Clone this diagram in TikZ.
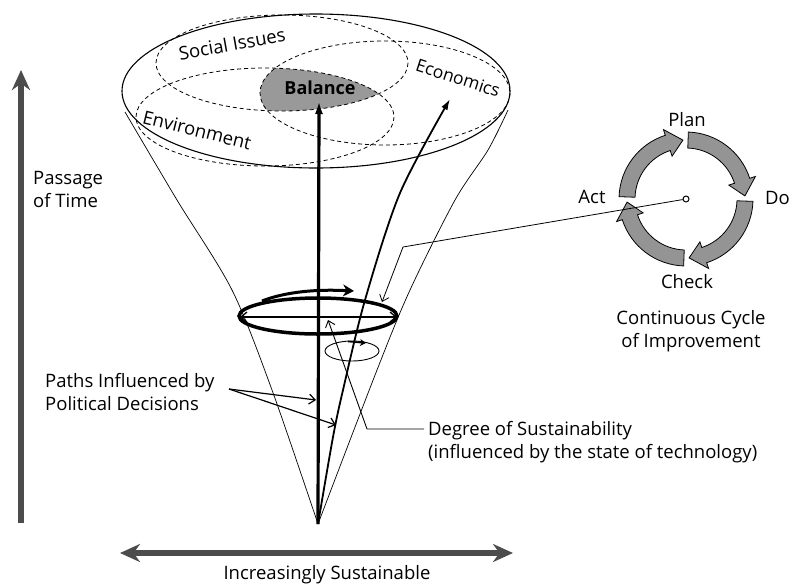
\documentclass[tikz,border=0pt]{standalone}
\usepackage{fontspec}
\setmainfont{Open Sans}
\usetikzlibrary{arrows.meta}
\newcommand\cyclearr[2]{%
  \filldraw[cyc] (#1:67) arc[start angle=#1, end angle=#2+15, radius=67]
    -- (#2+15:73) -- (#2:59) -- (#2+15:45) -- (#2+15:51)
    arc[start angle=#2+15, end angle=#1, radius=51] -- cycle;}
\begin{document}
\begin{tikzpicture}[x=1pt,y=-1pt,
  lbl/.style={font=\fontsize{18.5}{23}\selectfont, inner sep=0pt},
  conel/.style={line width=0.7pt},
  dsh/.style={dashed, dash pattern=on 4pt off 3pt, line width=0.8pt},
  bigarrow/.style={line width=6pt, draw=black!70},
  barb/.style={-{Straight Barb[length=6pt,width=10pt]}},
  cyc/.style={fill=black!42, draw=black, line width=0.8pt, line join=miter}]
\useasboundingbox (0,0) rectangle (794,587);

% cone sides
\draw[conel] plot[smooth] coordinates {(125,112) (177,200) (232,290) (272,390) (318,524)};
\draw[conel] plot[smooth] coordinates {(508,110) (488,150) (455,200) (410,290) (377,370) (318,524)};

% top ellipses
\draw[line width=1.1pt] (316,91) ellipse [x radius=194, y radius=77];
\begin{scope}
  \clip (282,63) ellipse [x radius=126, y radius=48];
  \clip (265,117) ellipse [x radius=129, y radius=49];
  \fill[black!40] (385,93) ellipse [x radius=125, y radius=52];
\end{scope}
\draw[dsh] (282,63) ellipse [x radius=126, y radius=48];
\draw[dsh] (265,117) ellipse [x radius=129, y radius=49];
\draw[dsh] (385,93) ellipse [x radius=125, y radius=52];

\node[lbl, rotate=10] (social) at (232,44) {Social Issues};
\node[lbl, rotate=-18, font=\fontsize{17.5}{23}\selectfont] (econ) at (458,78) {Economics};
\node[lbl, rotate=-14] (env) at (197,130) {Environment};
\node[lbl, font=\fontsize{18}{23}\selectfont\bfseries] (bal) at (320,88) {Balance};

% paths
\coordinate (apex) at (318,524);
\coordinate (baltip) at (319,101);
\draw[line width=3.2pt, -{Latex[length=13pt,width=8pt]}] (apex) -- (baltip);
\draw[line width=1.8pt, -{Latex[length=11pt,width=7pt]}] plot[smooth] coordinates {(318,524) (333,437) (343,390) (365,300) (400,193) (450,99)};

% rings
\draw[line width=3.5pt] (318,316) ellipse [x radius=79, y radius=18];
\draw[line width=3pt, -{Stealth[length=11pt,width=12pt]}] (262,301) .. controls (285,292) and (315,289) .. (354,291);
\draw[line width=1.3pt, {Straight Barb[length=6pt,width=10pt]}-{Straight Barb[length=6pt,width=10pt]}] (240,317) -- (397,317);
\draw[line width=0.9pt] (352,351) ellipse [x radius=27, y radius=10];
\draw[line width=1.6pt, -{Stealth[length=6pt,width=7pt]}] (348,341.5) -- (366,343);

% big axes
\draw[bigarrow, -{Stealth[length=20pt,width=18pt]}] (21,523) -- (21,70);
\draw[bigarrow, {Stealth[length=20pt,width=18pt]}-{Stealth[length=20pt,width=18pt]}] (120,553) -- (513,553);

\node[lbl, align=left, anchor=west] (time) at (33,189) {Passage\\of Time};
\node[lbl] (sust) at (327,575) {Increasingly Sustainable};
\node[lbl, align=left, anchor=west] (paths) at (45,392) {Paths Influenced by\\Political Decisions};
\node[lbl, align=left, anchor=west] (deg) at (428,442) {Degree of Sustainability\\(influenced by the state of technology)};

\coordinate (pstart) at (229,389);
\draw[line width=1.2pt, barb] (pstart) -- (316,400);
\draw[line width=1.2pt, barb] (pstart) -- (336,425);

\coordinate (degstart) at (424,429);
\coordinate (degbend) at (367,429);
\draw[line width=0.9pt, barb] (degstart) -- (degbend) -- (328,320);

% PDCA cycle
\begin{scope}[shift={(686,199)}, yscale=-1]
  \cyclearr{178}{93}
  \cyclearr{88}{3}
  \cyclearr{-2}{-87}
  \cyclearr{-92}{-177}
\end{scope}
\node[circle, draw, fill=white, line width=1pt, inner sep=0pt, minimum size=6pt] (hub) at (686,199) {};
\coordinate (actbend) at (403,247);
\draw[line width=0.8pt, barb] (hub) -- (actbend) -- (382,302);

\node[lbl] (plan) at (687,120) {Plan};
\node[lbl] (act) at (592,197) {Act};
\node[lbl, anchor=west] (do) at (765,198) {Do};
\node[lbl] (check) at (687,282) {Check};
\node[lbl, align=center] (cci) at (691,331) {Continuous Cycle\\of Improvement};
\end{tikzpicture}
\end{document}
